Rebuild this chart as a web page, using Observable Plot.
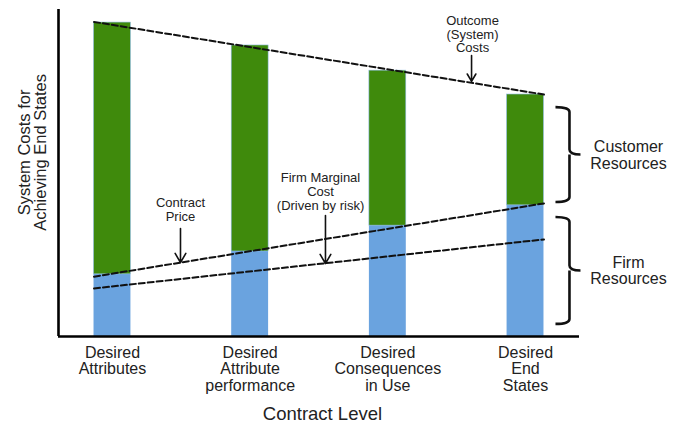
<!DOCTYPE html>
<html>
<head>
<meta charset="utf-8">
<script src="https://cdn.jsdelivr.net/npm/d3@7"></script>
<script src="https://cdn.jsdelivr.net/npm/@observablehq/plot@0.6"></script>
<style>
  html, body { margin: 0; padding: 0; background: #fff; }
  #chart svg { font-family: "Liberation Sans", Arial, Helvetica, sans-serif; display: block; }
</style>
</head>
<body>
<div id="chart"></div>
<script>
// ---- data ----
const categories = ["Desired\nAttributes", "Desired\nAttribute\nperformance", "Desired\nConsequences\nin Use", "Desired\nEnd\nStates"];
const systemCost = [96.0, 89.0, 81.3, 74.0];      // top of each bar (Outcome / System costs)
const contractPrice = [19.0, 26.0, 33.9, 40.1];   // firm part (blue) of each bar
const outcomeLine = [96.2, 74.0];                 // dashed trend, start / end
const contractLine = [18.3, 40.7];
const firmCostLine = [14.7, 29.7];
const noteTexts = ["Contract\nPrice", "Firm Marginal\nCost\n(Driven by risk)", "Outcome\n(System)\nCosts"];
const noteX = [0.494, 1.511, 2.615];
const noteY = [38.7, 44.3, 92.4];
const arrowTop = [33.0, 37.0, 85.9];
const arrowTip = [22.6, 22.3, 78.0];
const arrowX = [0.494, 1.547, 2.608];
const braceLabels = ["Customer\nResources", "Firm\nResources"];
const braceTop = [70.0, 36.4];
const braceBottom = [41.0, 3.7];
const yTitle = "System Costs for\nAchieving End States";
const xTitle = "Contract Level";

const GREEN = "#3f8a0c";
const BLUE = "#6aa3df";
const barHalf = 0.134;
const xDomain = [-0.392, 3.392];

const bars = categories.map((c, i) => ({i, c, top: systemCost[i], mid: contractPrice[i]}));
const trend = (vals, name) => [{x: -barHalf, y: vals[0], name}, {x: categories.length - 1 + barHalf, y: vals[1], name}];
const lines = [...trend(outcomeLine, "outcome"), ...trend(contractLine, "contract"), ...trend(firmCostLine, "firm")];
const notes = noteTexts.map((t, k) => ({t, x: noteX[k], y: noteY[k]}));
const arrows = arrowX.map((x, k) => ({x, y1: arrowTop[k], y2: arrowTip[k]}));
const braces = braceLabels.map((t, k) => ({t, top: braceTop[k], bottom: braceBottom[k]}));

function braceMark(index, scales) {
  const g = d3.create("svg:g").attr("fill", "none").attr("stroke", "#111").attr("stroke-width", 2.6);
  const xEdge = scales.x(categories.length - 1 + barHalf);
  const x0 = xEdge + 12, xm = xEdge + 26, xt = xEdge + 37, r = 5;
  for (const b of braces) {
    const y0 = scales.y(b.top), y1 = scales.y(b.bottom), ym = (y0 + y1) / 2;
    const p = d3.path();
    p.moveTo(x0, y0);
    p.quadraticCurveTo(xm, y0, xm, y0 + r);
    p.lineTo(xm, ym - r);
    p.quadraticCurveTo(xm, ym, xt, ym);
    p.moveTo(xm + 0.01, ym);
    p.quadraticCurveTo(xm, ym, xm, ym + r);
    p.lineTo(xm, y1 - r);
    p.quadraticCurveTo(xm, y1, x0, y1);
    g.append("path").attr("d", p.toString());
  }
  return g.node();
}

const chart = Plot.plot({
  width: 679,
  height: 429,
  marginTop: 9,
  marginRight: 100,
  marginBottom: 93,
  marginLeft: 58,
  x: {type: "linear", domain: xDomain, axis: null},
  y: {domain: [0, 100], axis: null},
  marks: [
    // bars: firm (blue) and customer (green) parts
    Plot.rectY(bars, {x1: d => d.i - barHalf, x2: d => d.i + barHalf, y1: 0, y2: "mid", fill: BLUE}),
    Plot.rectY(bars, {x1: d => d.i - barHalf, x2: d => d.i + barHalf, y1: "mid", y2: "top", fill: GREEN, stroke: "#8fbbe6", strokeWidth: 0.6}),
    // dashed trend lines
    Plot.line(lines, {x: "x", y: "y", z: "name", stroke: "#111", strokeWidth: 2, strokeDasharray: "6,3"}),
    // axes
    Plot.ruleX([xDomain[0]], {stroke: "#000", strokeWidth: 2.6}),
    Plot.ruleY([0], {stroke: "#000", strokeWidth: 2.6}),
    // tick labels
    Plot.text(bars, {x: "i", y: 0, text: "c", lineAnchor: "top", dy: 10, fontSize: 16, lineHeight: 1.02, fill: "#222"}),
    // annotations
    Plot.text(notes, {x: "x", y: "y", text: "t", fontSize: 13, lineHeight: 1.05, fill: "#222"}),
    Plot.arrow(arrows, {x1: "x", x2: "x", y1: "y1", y2: "y2", stroke: "#111", strokeWidth: 1.6, headLength: 10}),
    braceMark,
    Plot.text(braces, {x: 3.748, y: d => (d.top + d.bottom) / 2, text: "t", fontSize: 16, lineHeight: 1.03, fill: "#222"}),
    // axis titles
    Plot.text([yTitle], {frameAnchor: "left", y: 56.3, dx: -26, rotate: -90, textAnchor: "middle", fontSize: 16.5, lineHeight: 0.98, fill: "#222"}),
    Plot.text([xTitle], {frameAnchor: "bottom", x: 1.525, dy: 83, textAnchor: "middle", fontSize: 18.5, fill: "#222"})
  ]
});
document.getElementById("chart").appendChild(chart);
</script>
</body>
</html>
